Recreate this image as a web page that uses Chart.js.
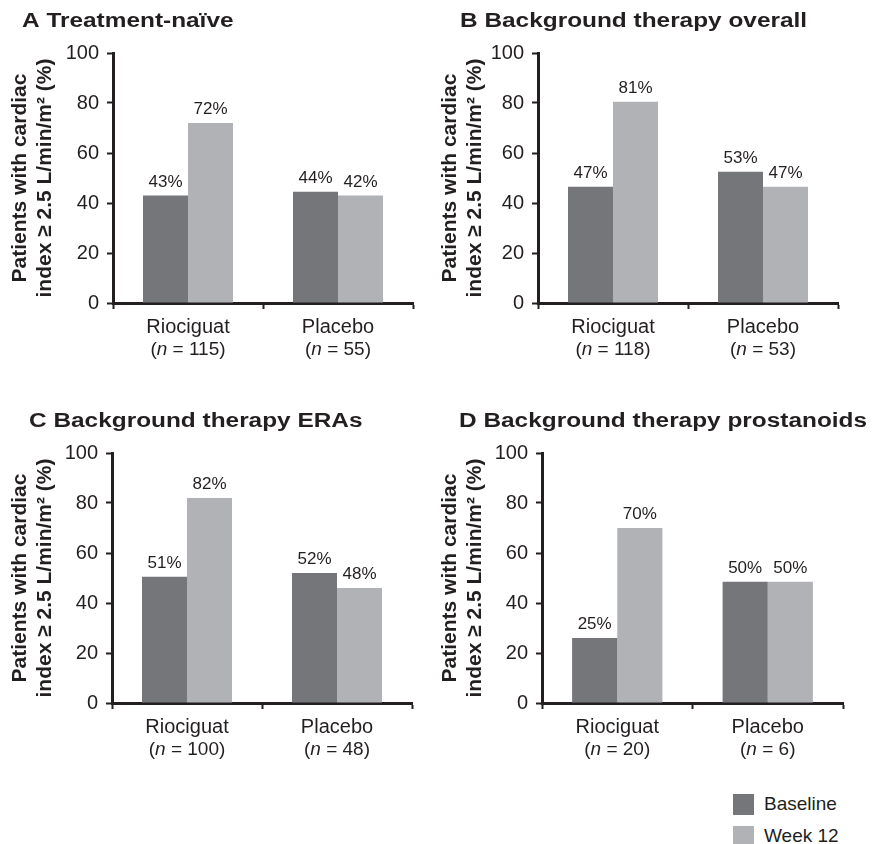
<!DOCTYPE html>
<html>
<head>
<meta charset="utf-8">
<script src="https://cdn.jsdelivr.net/npm/chart.js@4/dist/chart.umd.min.js"></script>
<style>
  body { margin: 0; background: #fff; width: 875px; height: 844px; position: relative; overflow: hidden; font-family: "Liberation Sans", Arial, sans-serif; color: #231f20; }
  canvas { position: absolute; }
  .legend { position: absolute; left: 733px; top: 788px; font-size: 19px; }
  .legend div { display: flex; align-items: center; height: 32px; }
  .legend span.box { width: 21px; height: 21px; margin-right: 10px; display: inline-block; }
</style>
</head>
<body>
<canvas id="chartA"></canvas>
<canvas id="chartB"></canvas>
<canvas id="chartC"></canvas>
<canvas id="chartD"></canvas>
<div class="legend" id="legend"></div>
<script>
const categories = ['Riociguat', 'Placebo'];
const seriesNames = ['Baseline', 'Week 12'];
const seriesColors = ['#75767a', '#b1b2b5'];
const panelTitles = ['A Treatment-naïve', 'B Background therapy overall', 'C Background therapy ERAs', 'D Background therapy prostanoids'];
const sampleSizes = [[115, 55], [118, 53], [100, 48], [20, 6]];
// bar heights as drawn in the figure
const baselineValues = [[43, 44.5], [46.5, 52.5], [50.5, 52], [26, 48.5]];
const week12Values = [[72, 43], [80.5, 46.5], [82, 46], [70, 48.5]];
// printed labels above the bars
const baselineLabels = [[43, 44], [47, 53], [51, 52], [25, 50]];
const week12Labels = [[72, 42], [81, 47], [82, 48], [70, 50]];
const yTicks = [0, 20, 40, 60, 80, 100];
const yTitle = ['Patients with cardiac', 'index \u2265 2.5 L/min/m\u00b2 (%)'];

const ink = '#231f20';
const fontFamily = '"Liberation Sans", Arial, sans-serif';
Chart.defaults.font.family = fontFamily;
Chart.defaults.color = ink;

const layouts = [
    { id: 'chartA', left: 0, top: 0, w: 430, axisLeft: 113, padRight: 17, titleX: 22 },
    { id: 'chartB', left: 430, top: 0, w: 445, axisLeft: 108, padRight: 37, titleX: 30 },
    { id: 'chartC', left: 0, top: 400, w: 430, axisLeft: 112, padRight: 18, titleX: 29 },
    { id: 'chartD', left: 430, top: 400, w: 445, axisLeft: 112, padRight: 32, titleX: 29 }
];
const canvasH = 372;
const areaBottom = 303;

const panelText = {
    id: 'panelText',
    afterDraw(chart, args, opts) {
        const ctx = chart.ctx;
        // panel title
        ctx.save();
        ctx.fillStyle = ink;
        ctx.font = 'bold 20px ' + fontFamily;
        ctx.textBaseline = 'middle';
        ctx.translate(opts.titleX, 21);
        ctx.scale(1.22, 1);
        ctx.fillText(opts.title, 0, 0);
        ctx.restore();

        // value labels above bars
        ctx.save();
        ctx.fillStyle = ink;
        ctx.font = '17px ' + fontFamily;
        ctx.textAlign = 'center';
        ctx.textBaseline = 'bottom';
        chart.data.datasets.forEach((ds, di) => {
            const meta = chart.getDatasetMeta(di);
            meta.data.forEach((bar, i) => {
                ctx.fillText(ds.valueLabels[i] + '%', bar.x, bar.y - 5);
            });
        });
        ctx.restore();

        // category labels with italic n
        const xScale = chart.scales.x;
        ctx.save();
        ctx.fillStyle = ink;
        ctx.textBaseline = 'middle';
        categories.forEach((cat, i) => {
            const cx = xScale.getPixelForValue(i);
            ctx.font = '20px ' + fontFamily;
            ctx.textAlign = 'center';
            ctx.fillText(cat, cx, areaBottom + 24);
            const a = '(', b = 'n', c = ' = ' + opts.sizes[i] + ')';
            ctx.font = '19px ' + fontFamily;
            const wa = ctx.measureText(a).width, wc = ctx.measureText(c).width;
            ctx.font = 'italic 19px ' + fontFamily;
            const wb = ctx.measureText(b).width;
            let x = cx - (wa + wb + wc) / 2;
            ctx.textAlign = 'left';
            ctx.font = '19px ' + fontFamily;
            ctx.fillText(a, x, areaBottom + 47);
            ctx.font = 'italic 19px ' + fontFamily;
            ctx.fillText(b, x + wa, areaBottom + 47);
            ctx.font = '19px ' + fontFamily;
            ctx.fillText(c, x + wa + wb, areaBottom + 47);
        });
        ctx.restore();
    }
};

layouts.forEach((lay, p) => {
    const canvas = document.getElementById(lay.id);
    canvas.width = lay.w;
    canvas.height = canvasH;
    canvas.style.left = lay.left + 'px';
    canvas.style.top = lay.top + 'px';

    new Chart(canvas.getContext('2d'), {
        type: 'bar',
        data: {
            labels: categories,
            datasets: [
                { label: seriesNames[0], data: baselineValues[p], valueLabels: baselineLabels[p], backgroundColor: seriesColors[0] },
                { label: seriesNames[1], data: week12Values[p], valueLabels: week12Labels[p], backgroundColor: seriesColors[1] }
            ]
        },
        options: {
            responsive: false,
            animation: false,
            layout: { padding: { top: 53, right: lay.padRight, left: 0, bottom: 0 } },
            datasets: { bar: { categoryPercentage: 0.6, barPercentage: 1.0 } },
            plugins: {
                legend: { display: false },
                tooltip: { enabled: false },
                panelText: { title: panelTitles[p], titleX: lay.titleX, sizes: sampleSizes[p] }
            },
            scales: {
                x: {
                    ticks: { display: false },
                    grid: { drawOnChartArea: false, drawTicks: true, tickLength: 6, tickWidth: 2, tickColor: ink, offset: true },
                    border: { display: true, color: ink, width: 3 },
                    afterFit: (scale) => { scale.height = canvasH - areaBottom; }
                },
                y: {
                    min: yTicks[0],
                    max: yTicks[yTicks.length - 1],
                    afterBuildTicks: (scale) => { scale.ticks = yTicks.map(v => ({ value: v })); },
                    ticks: { font: { size: 20 }, color: ink, padding: 8 },
                    grid: { drawOnChartArea: false, drawTicks: true, tickLength: 6, tickWidth: 2, tickColor: ink },
                    border: { display: true, color: ink, width: 3 },
                    title: {
                        display: true,
                        text: yTitle,
                        font: { size: 21, weight: 'bold', lineHeight: 1.19 },
                        color: ink,
                        padding: { top: 8, bottom: 0 }
                    },
                    afterFit: (scale) => { scale.width = lay.axisLeft; }
                }
            }
        },
        plugins: [panelText]
    });
});

const legend = document.getElementById('legend');
seriesNames.forEach((name, i) => {
    const row = document.createElement('div');
    row.innerHTML = `<span class="box" style="background:${seriesColors[i]}"></span>${name}`;
    legend.appendChild(row);
});
</script>
</body>
</html>
